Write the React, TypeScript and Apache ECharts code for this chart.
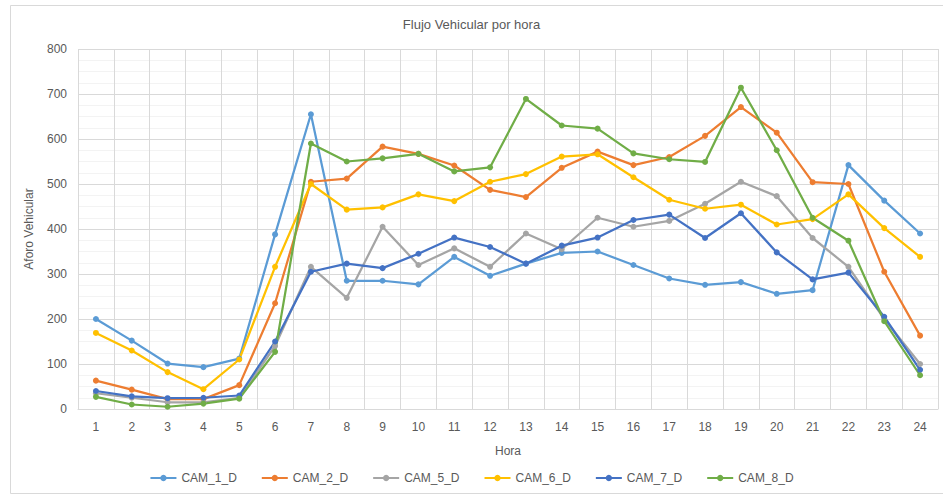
import React, { useEffect, useRef } from "react";
import * as echarts from "echarts";

const hours = ["1","2","3","4","5","6","7","8","9","10","11","12","13","14","15","16","17","18","19","20","21","22","23","24"];
const cam1 = [200,152,101,93,112,388,655,285,285,277,338,296,323,347,350,320,290,276,282,256,264,542,463,390];
const cam2 = [63,43,22,22,53,235,505,512,583,567,541,487,471,536,572,542,560,607,671,614,504,500,305,163];
const cam5 = [35,25,15,15,25,140,316,247,405,320,357,316,390,355,425,405,418,456,505,473,380,316,200,100];
const cam6 = [169,130,82,44,110,316,500,443,448,477,462,505,522,561,566,515,465,445,454,410,422,477,402,338];
const cam7 = [40,28,24,25,30,150,305,323,313,345,381,360,323,363,381,420,432,380,435,348,288,303,205,87];
const cam8 = [27,10,5,12,23,127,590,550,557,567,528,537,689,630,623,568,555,549,714,575,425,374,195,75];

const seriesNames = ["CAM_1_D","CAM_2_D","CAM_5_D","CAM_6_D","CAM_7_D","CAM_8_D"];
const seriesData = [cam1, cam2, cam5, cam6, cam7, cam8];
const colors = ["#5B9BD5","#ED7D31","#A5A5A5","#FFC000","#4472C4","#70AD47"];

const FONT = "Liberation Sans, Arial, sans-serif";
const TXT = "#595959";

export default function App() {
  const ref = useRef<HTMLDivElement>(null);
  useEffect(() => {
    if (!ref.current) return;
    const chart = echarts.init(ref.current, undefined, { renderer: "svg" });
    chart.setOption({
      animation: false,
      backgroundColor: "#ffffff",
      textStyle: { fontFamily: FONT },
      title: {
        text: "Flujo Vehicular por hora",
        left: "center",
        top: 13,
        textStyle: { fontSize: 13, fontWeight: "normal", color: TXT, fontFamily: FONT },
      },
      graphic: [
        {
          type: "rect",
          shape: { x: 10.5, y: 5.5, width: 940, height: 488 },
          style: { fill: "none", stroke: "#d9d9d9", lineWidth: 1 },
          silent: true,
        },
      ],
      legend: {
        bottom: 8,
        left: "center",
        itemWidth: 26,
        itemHeight: 8,
        itemGap: 24,
        textStyle: { fontSize: 12, color: TXT, fontFamily: FONT },
        data: seriesNames,
      },
      grid: { left: 78, right: 5, top: 49, bottom: 88, containLabel: false },
      xAxis: {
        type: "category",
        data: hours,
        boundaryGap: true,
        name: "Hora",
        nameLocation: "middle",
        nameGap: 36,
        nameTextStyle: { fontSize: 12, color: TXT, fontFamily: FONT },
        axisLine: { show: true, lineStyle: { color: "#d9d9d9" } },
        axisTick: { show: false },
        axisLabel: { color: TXT, fontSize: 12, margin: 12, fontFamily: FONT },
        splitLine: { show: true, lineStyle: { color: "#d9d9d9" } },
      },
      yAxis: {
        type: "value",
        min: 0,
        max: 800,
        interval: 100,
        name: "Aforo Vehicular",
        nameLocation: "middle",
        nameGap: 43,
        nameTextStyle: { fontSize: 12, color: TXT, fontFamily: FONT },
        axisLine: { show: false },
        axisTick: { show: false },
        axisLabel: { color: TXT, fontSize: 12, margin: 11, fontFamily: FONT },
        splitLine: { show: true, lineStyle: { color: "#d9d9d9" } },
        minorTick: { show: false, splitNumber: 4 },
        minorSplitLine: { show: true, lineStyle: { color: "#f3f3f3" } },
      },
      series: seriesNames.map((n, i) => ({
        name: n,
        type: "line",
        data: seriesData[i],
        symbol: "circle",
        symbolSize: 6,
        showSymbol: true,
        color: colors[i],
        lineStyle: { width: 2.25, color: colors[i] },
        itemStyle: { color: colors[i] },
      })),
    });
    return () => chart.dispose();
  }, []);
  return <div ref={ref} style={{ width: 943, height: 497, position: "absolute", left: 0, top: 0 }} />;
}
